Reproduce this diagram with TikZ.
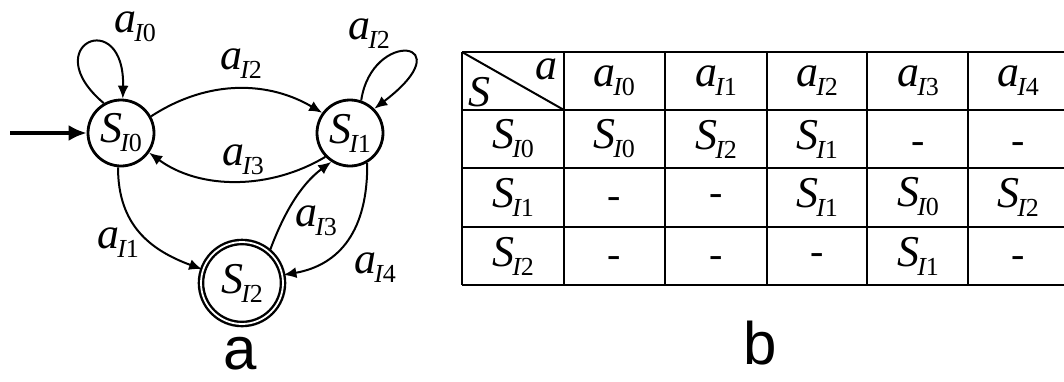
\documentclass[tikz,border=0pt]{standalone}
\usepackage{fontspec}
\setmainfont{Liberation Serif}
\newfontfamily\capfont{Liberation Sans}
\usetikzlibrary{arrows.meta}
\newcommand\bigtxt{\fontsize{44}{46}\selectfont}
\newcommand\lbl[2]{{\bigtxt\itshape #1\kern-0.04em\raisebox{-0.45ex}{\fontsize{26}{26}\selectfont\itshape I\upshape #2}}}
\begin{document}
\begin{tikzpicture}[x=1pt,y=-1pt,
  state/.style={circle,draw,line width=2.8pt,inner sep=0pt,minimum size=66pt},
  final/.style={circle,draw,double,double distance=1.8pt,line width=2.4pt,inner sep=0pt,minimum size=82pt},
  edge/.style={line width=2pt,-{Latex[length=13pt,width=11pt]}},
  elab/.style={inner sep=0pt},
  cell/.style={inner sep=0pt},
  nocell/.style={inner sep=0pt,font=\fontsize{40}{42}\selectfont},
  grid/.style={line width=2.4pt},
  captxt/.style={font=\capfont\fontsize{60}{62}\selectfont,inner sep=0pt}]
\useasboundingbox (0,0) rectangle (1064,381);
% states
\node[state] (s0) at (121,133) {\lbl{S}{0}};
\node[state] (s1) at (350,133) {\lbl{S}{1}};
\node[final] (s2) at (242,283) {\lbl{S}{2}};
\coordinate (init) at (10,133);
\draw[line width=3.2pt,-{Latex[length=18pt,width=16pt]}] (init) -- (s0.180);
% edges
\draw[edge] (s0.120) .. controls (35,45) and (125,5) .. (s0.87);
\draw[edge] (s1.71) .. controls (372,28) and (465,40) .. (s1.45);
\draw[edge] (s0.29) .. controls (210,78) and (270,82) .. (s1.144);
\draw[edge] (s1.224) .. controls (270,190) and (200,190) .. (s0.325);
\draw[edge] (s0.265) .. controls (118,225) and (150,250) .. (s2.161);
\draw[edge] (s2.49) .. controls (283,215) and (300,185) .. (s1.237);
\draw[edge] (s1.300) .. controls (368,230) and (340,265) .. (s2.11);
% edge labels
\node[elab] (l0) at (135,27) {\lbl{a}{0}};
\node[elab] (l1) at (369,34) {\lbl{a}{2}};
\node[elab] (l2) at (241,64) {\lbl{a}{2}};
\node[elab] (l3) at (243,160) {\lbl{a}{3}};
\node[elab] (l4) at (118,243) {\lbl{a}{1}};
\node[elab] (l5) at (316,221) {\lbl{a}{3}};
\node[elab] (l6) at (375,268) {\lbl{a}{4}};
\node[captxt] (capa) at (240,354) {a};
\node[captxt] (capb) at (760,343) {b};
% table grid
\foreach \y in {52,110,168,227,285} \draw[grid] (462,\y) -- (1064,\y);
\foreach \x in {462,564,665,767,867,968} \draw[grid] (\x,52) -- (\x,285);
\draw[line width=2pt] (462,52) -- (564,110);
\node[cell] (hS) at (479,92) {\bigtxt\itshape S};
\node[cell] (ha) at (546,69) {\bigtxt\itshape a};
% header row
\node[cell] (h0) at (614,81) {\lbl{a}{0}};
\node[cell] (h1) at (716,81) {\lbl{a}{1}};
\node[cell] (h2) at (817,81) {\lbl{a}{2}};
\node[cell] (h3) at (918,81) {\lbl{a}{3}};
\node[cell] (h4) at (1018,81) {\lbl{a}{4}};
% rows
\node[cell] (r0) at (513,139) {\lbl{S}{0}};
\node[cell] (r00) at (614,139) {\lbl{S}{0}};
\node[cell] (r01) at (716,139) {\lbl{S}{2}};
\node[cell] (r02) at (817,139) {\lbl{S}{1}};
\node[nocell] (r03) at (918,148) {-};
\node[nocell] (r04) at (1018,148) {-};
\node[cell] (r1) at (513,197) {\lbl{S}{1}};
\node[nocell] (r10) at (614,203) {-};
\node[nocell] (r11) at (716,200) {-};
\node[cell] (r12) at (817,197) {\lbl{S}{1}};
\node[cell] (r13) at (918,197) {\lbl{S}{0}};
\node[cell] (r14) at (1018,197) {\lbl{S}{2}};
\node[cell] (r2) at (513,256) {\lbl{S}{2}};
\node[nocell] (r20) at (614,262) {-};
\node[nocell] (r21) at (716,262) {-};
\node[nocell] (r22) at (817,259) {-};
\node[cell] (r23) at (918,256) {\lbl{S}{1}};
\node[nocell] (r24) at (1018,262) {-};
\end{tikzpicture}
\end{document}
